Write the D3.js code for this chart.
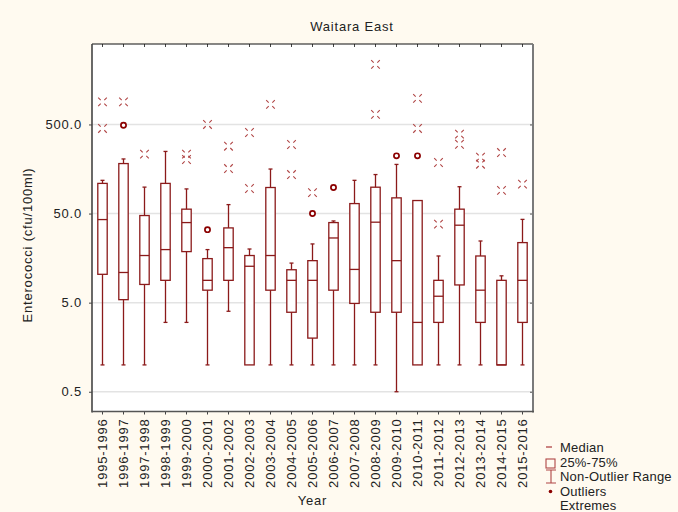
<!DOCTYPE html>
<html lang="en">
<head>
    <meta charset="UTF-8">
    <title>Waitara East</title>
    <script src="https://d3js.org/d3.v7.min.js"></script>
    <style>
        body {
            margin: 0;
            background: #fffaf0;
        }

        text {
            font-family: "Liberation Sans", Arial, sans-serif;
            font-size: 13px;
            fill: #222;
            letter-spacing: 0.8px;
        }

        .legend text {
            letter-spacing: 0.2px;
        }
    </style>
</head>
<body>
    <div id="chart"></div>

    <script>
        // values (cfu/100ml)
        const categories = ["1995-1996", "1996-1997", "1997-1998", "1998-1999", "1999-2000",
            "2000-2001", "2001-2002", "2002-2003", "2003-2004", "2004-2005", "2005-2006",
            "2006-2007", "2007-2008", "2008-2009", "2009-2010", "2010-2011", "2011-2012",
            "2012-2013", "2013-2014", "2014-2015", "2015-2016"];
        const whiskerLow  = [1.0, 1.0, 1.0, 3.0, 3.0, 1.0, 4.0, 1.0, 1.0, 1.0, 1.0, 1.0, 1.0, 1.0, 0.5, 1.0, 1.0, 1.0, 1.0, 1.0, 1.0];
        const q1          = [10.4, 5.4, 8.0, 8.9, 18.7, 6.9, 8.9, 1.0, 6.9, 3.9, 2.0, 6.9, 4.9, 3.9, 3.9, 1.0, 3.0, 7.9, 3.0, 1.0, 3.0];
        const median      = [42.8, 10.9, 16.9, 19.7, 39.6, 8.9, 20.7, 12.8, 16.9, 8.9, 8.9, 26.6, 11.8, 40, 14.8, 3.0, 5.9, 37, 6.9, 1.0, 8.9];
        const q3          = [109, 182, 47.5, 109, 56, 15.6, 34.5, 16.9, 98, 11.7, 14.8, 39.6, 64.7, 98.8, 75, 70, 8.9, 56, 16.7, 8.9, 23.6];
        const whiskerHigh = [118, 205, 99, 249, 94.5, 19.7, 63, 20, 158, 13.9, 22.8, 41.3, 118, 137, 178, 70, 16.7, 100, 24.6, 10, 43];
        const outliers = [[], [490], [], [], [], [33], [], [], [], [], [50], [98], [], [], [222], [222], [], [], [], [], []];
        const extremes = [[897, 451], [897], [232], [], [232, 202], [500], [285, 160], [406, 95.5], [839],
            [298, 137], [86], [], [], [2360, 648], [], [980, 451], [187, 38], [389, 300], [215, 179], [242, 91], [107]];
        const yTicks = [0.5, 5, 50, 500];
        const legendLabels = ["Median", "25%-75%", "Non-Outlier Range", "Outliers", "Extremes"];

        const width = 678, height = 512;
        const plotLeft = 92, plotRight = 533, plotTop = 44, plotBottom = 411.5;
        const dark = "#8b1a1a", light = "#b04545";

        const svg = d3.select("#chart").append("svg")
            .attr("width", width)
            .attr("height", height);

        const x = d3.scaleBand().domain(categories).range([plotLeft, plotRight]).padding(0);
        const y = d3.scaleLog().domain([0.3, 4000]).range([plotBottom, plotTop]);
        const cx = d => x(d) + x.bandwidth() / 2;
        const boxW = 9.4, capW = 4;

        // plot area
        svg.append("rect")
            .attr("x", plotLeft).attr("y", plotTop)
            .attr("width", plotRight - plotLeft).attr("height", plotBottom - plotTop)
            .attr("fill", "#fff");

        // grid
        svg.append("g").selectAll("line")
            .data(yTicks)
            .join("line")
            .attr("x1", plotLeft).attr("x2", plotRight)
            .attr("y1", d => y(d)).attr("y2", d => y(d))
            .attr("stroke", "#e3e3e3")
            .attr("stroke-width", 1.5);

        // axes
        const yAxis = svg.append("g")
            .attr("transform", `translate(${plotLeft},0)`)
            .call(d3.axisLeft(y).tickValues(yTicks).tickFormat(d3.format(".1f")).tickSize(3).tickPadding(7));
        yAxis.select(".domain").remove();
        yAxis.selectAll("text").style("font-size", "13px").attr("fill", "#222");
        yAxis.selectAll("line").attr("stroke", "#444");

        const yAxisR = svg.append("g")
            .attr("transform", `translate(${plotRight},0)`)
            .call(d3.axisLeft(y).tickValues(yTicks).tickFormat("").tickSize(3));
        yAxisR.select(".domain").remove();
        yAxisR.selectAll("line").attr("stroke", "#555");

        const xAxis = svg.append("g")
            .attr("transform", `translate(0,${plotBottom})`)
            .call(d3.axisBottom(x).tickSize(3).tickSizeOuter(0));
        xAxis.select(".domain").remove();
        xAxis.selectAll("line").attr("stroke", "#444");
        xAxis.selectAll("text")
            .style("font-size", "13px")
            .attr("fill", "#222")
            .attr("text-anchor", "end")
            .attr("transform", "rotate(-90)")
            .attr("x", -7)
            .attr("y", 0)
            .attr("dy", "0.35em");

        const xAxisTop = svg.append("g")
            .attr("transform", `translate(0,${plotTop})`)
            .call(d3.axisBottom(x).tickSize(3).tickFormat(""));
        xAxisTop.select(".domain").remove();
        xAxisTop.selectAll("line").attr("stroke", "#444");

        // frame
        svg.append("line").attr("x1", plotLeft).attr("x2", plotRight).attr("y1", plotTop).attr("y2", plotTop)
            .attr("stroke", "#111").attr("stroke-width", 1.2);
        svg.append("line").attr("x1", plotLeft).attr("x2", plotLeft).attr("y1", plotTop).attr("y2", plotBottom + 1)
            .attr("stroke", "#444").attr("stroke-width", 1.6);
        svg.append("line").attr("x1", plotRight).attr("x2", plotRight).attr("y1", plotTop).attr("y2", plotBottom + 1)
            .attr("stroke", "#7a7a7a").attr("stroke-width", 2);
        svg.append("line").attr("x1", plotLeft).attr("x2", plotRight + 1).attr("y1", plotBottom).attr("y2", plotBottom)
            .attr("stroke", "#555").attr("stroke-width", 1.6);

        // boxes
        const g = svg.append("g");
        const rows = categories.map((c, i) => ({ c, i }));

        g.selectAll(".whisker")
            .data(rows)
            .join("line")
            .attr("x1", d => cx(d.c)).attr("x2", d => cx(d.c))
            .attr("y1", d => y(whiskerLow[d.i])).attr("y2", d => y(whiskerHigh[d.i]))
            .attr("stroke", dark).attr("stroke-width", 1.3);

        [whiskerLow, whiskerHigh].forEach(arr => {
            g.append("g").selectAll("line")
                .data(rows.filter(d => arr === whiskerLow ? whiskerLow[d.i] < q1[d.i] : whiskerHigh[d.i] > q3[d.i]))
                .join("line")
                .attr("x1", d => cx(d.c) - capW / 2).attr("x2", d => cx(d.c) + capW / 2)
                .attr("y1", d => y(arr[d.i])).attr("y2", d => y(arr[d.i]))
                .attr("stroke", dark).attr("stroke-width", 1.3);
        });

        g.selectAll(".box")
            .data(rows)
            .join("rect")
            .attr("x", d => cx(d.c) - boxW / 2)
            .attr("width", boxW)
            .attr("y", d => y(q3[d.i]))
            .attr("height", d => y(q1[d.i]) - y(q3[d.i]))
            .attr("fill", "#fff")
            .attr("stroke", dark).attr("stroke-width", 1.3);

        g.selectAll(".median")
            .data(rows)
            .join("line")
            .attr("x1", d => cx(d.c) - boxW / 2).attr("x2", d => cx(d.c) + boxW / 2)
            .attr("y1", d => y(median[d.i])).attr("y2", d => y(median[d.i]))
            .attr("stroke", dark).attr("stroke-width", 1.3);

        // outliers
        g.append("g").selectAll("circle")
            .data(rows.flatMap(d => outliers[d.i].map(v => ({ c: d.c, v }))))
            .join("circle")
            .attr("cx", d => cx(d.c)).attr("cy", d => y(d.v))
            .attr("r", 2.6)
            .attr("fill", "#fff")
            .attr("stroke", "#8b0000").attr("stroke-width", 1.7);

        // extremes: dashed cross
        const xMark = "M-4.3,-4.3L-1.8,-1.8M4.3,-4.3L1.8,-1.8M-4.3,4.3L-1.8,1.8M4.3,4.3L1.8,1.8";
        g.append("g").selectAll("path")
            .data(rows.flatMap(d => extremes[d.i].map(v => ({ c: d.c, v }))))
            .join("path")
            .attr("transform", d => `translate(${cx(d.c)},${y(d.v)})`)
            .attr("d", xMark)
            .attr("fill", "none")
            .attr("stroke", light).attr("stroke-width", 1.1);

        // titles
        svg.append("text")
            .attr("x", 352).attr("y", 31)
            .attr("text-anchor", "middle")
            .text("Waitara East");

        svg.append("text")
            .attr("transform", "translate(32,245) rotate(-90)")
            .attr("text-anchor", "middle")
            .text("Enterococci (cfu/100ml)");

        svg.append("text")
            .attr("x", (plotLeft + plotRight) / 2).attr("y", 505)
            .attr("text-anchor", "middle")
            .text("Year");

        // legend
        const lx = 546, ly = [452, 466.5, 481, 495.5, 510];
        const leg = svg.append("g").attr("class", "legend");
        leg.selectAll("text")
            .data(legendLabels)
            .join("text")
            .attr("x", 560)
            .attr("y", (d, i) => ly[i])
            .text(d => d);

        leg.append("line").attr("x1", lx).attr("x2", lx + 6).attr("y1", 447).attr("y2", 447)
            .attr("stroke", light).attr("stroke-width", 1.3);
        leg.append("rect").attr("x", lx).attr("y", 459).attr("width", 9).attr("height", 9)
            .attr("fill", "none").attr("stroke", light).attr("stroke-width", 1.1);
        leg.append("path").attr("d", `M${lx},470H${lx + 10}M${lx + 5},470V483M${lx},483H${lx + 10}`)
            .attr("fill", "none").attr("stroke", light).attr("stroke-width", 1.1);
        leg.append("circle").attr("cx", lx + 4.5).attr("cy", 491.5).attr("r", 1.8)
            .attr("fill", "#8b0000");
    </script>
</body>
</html>
